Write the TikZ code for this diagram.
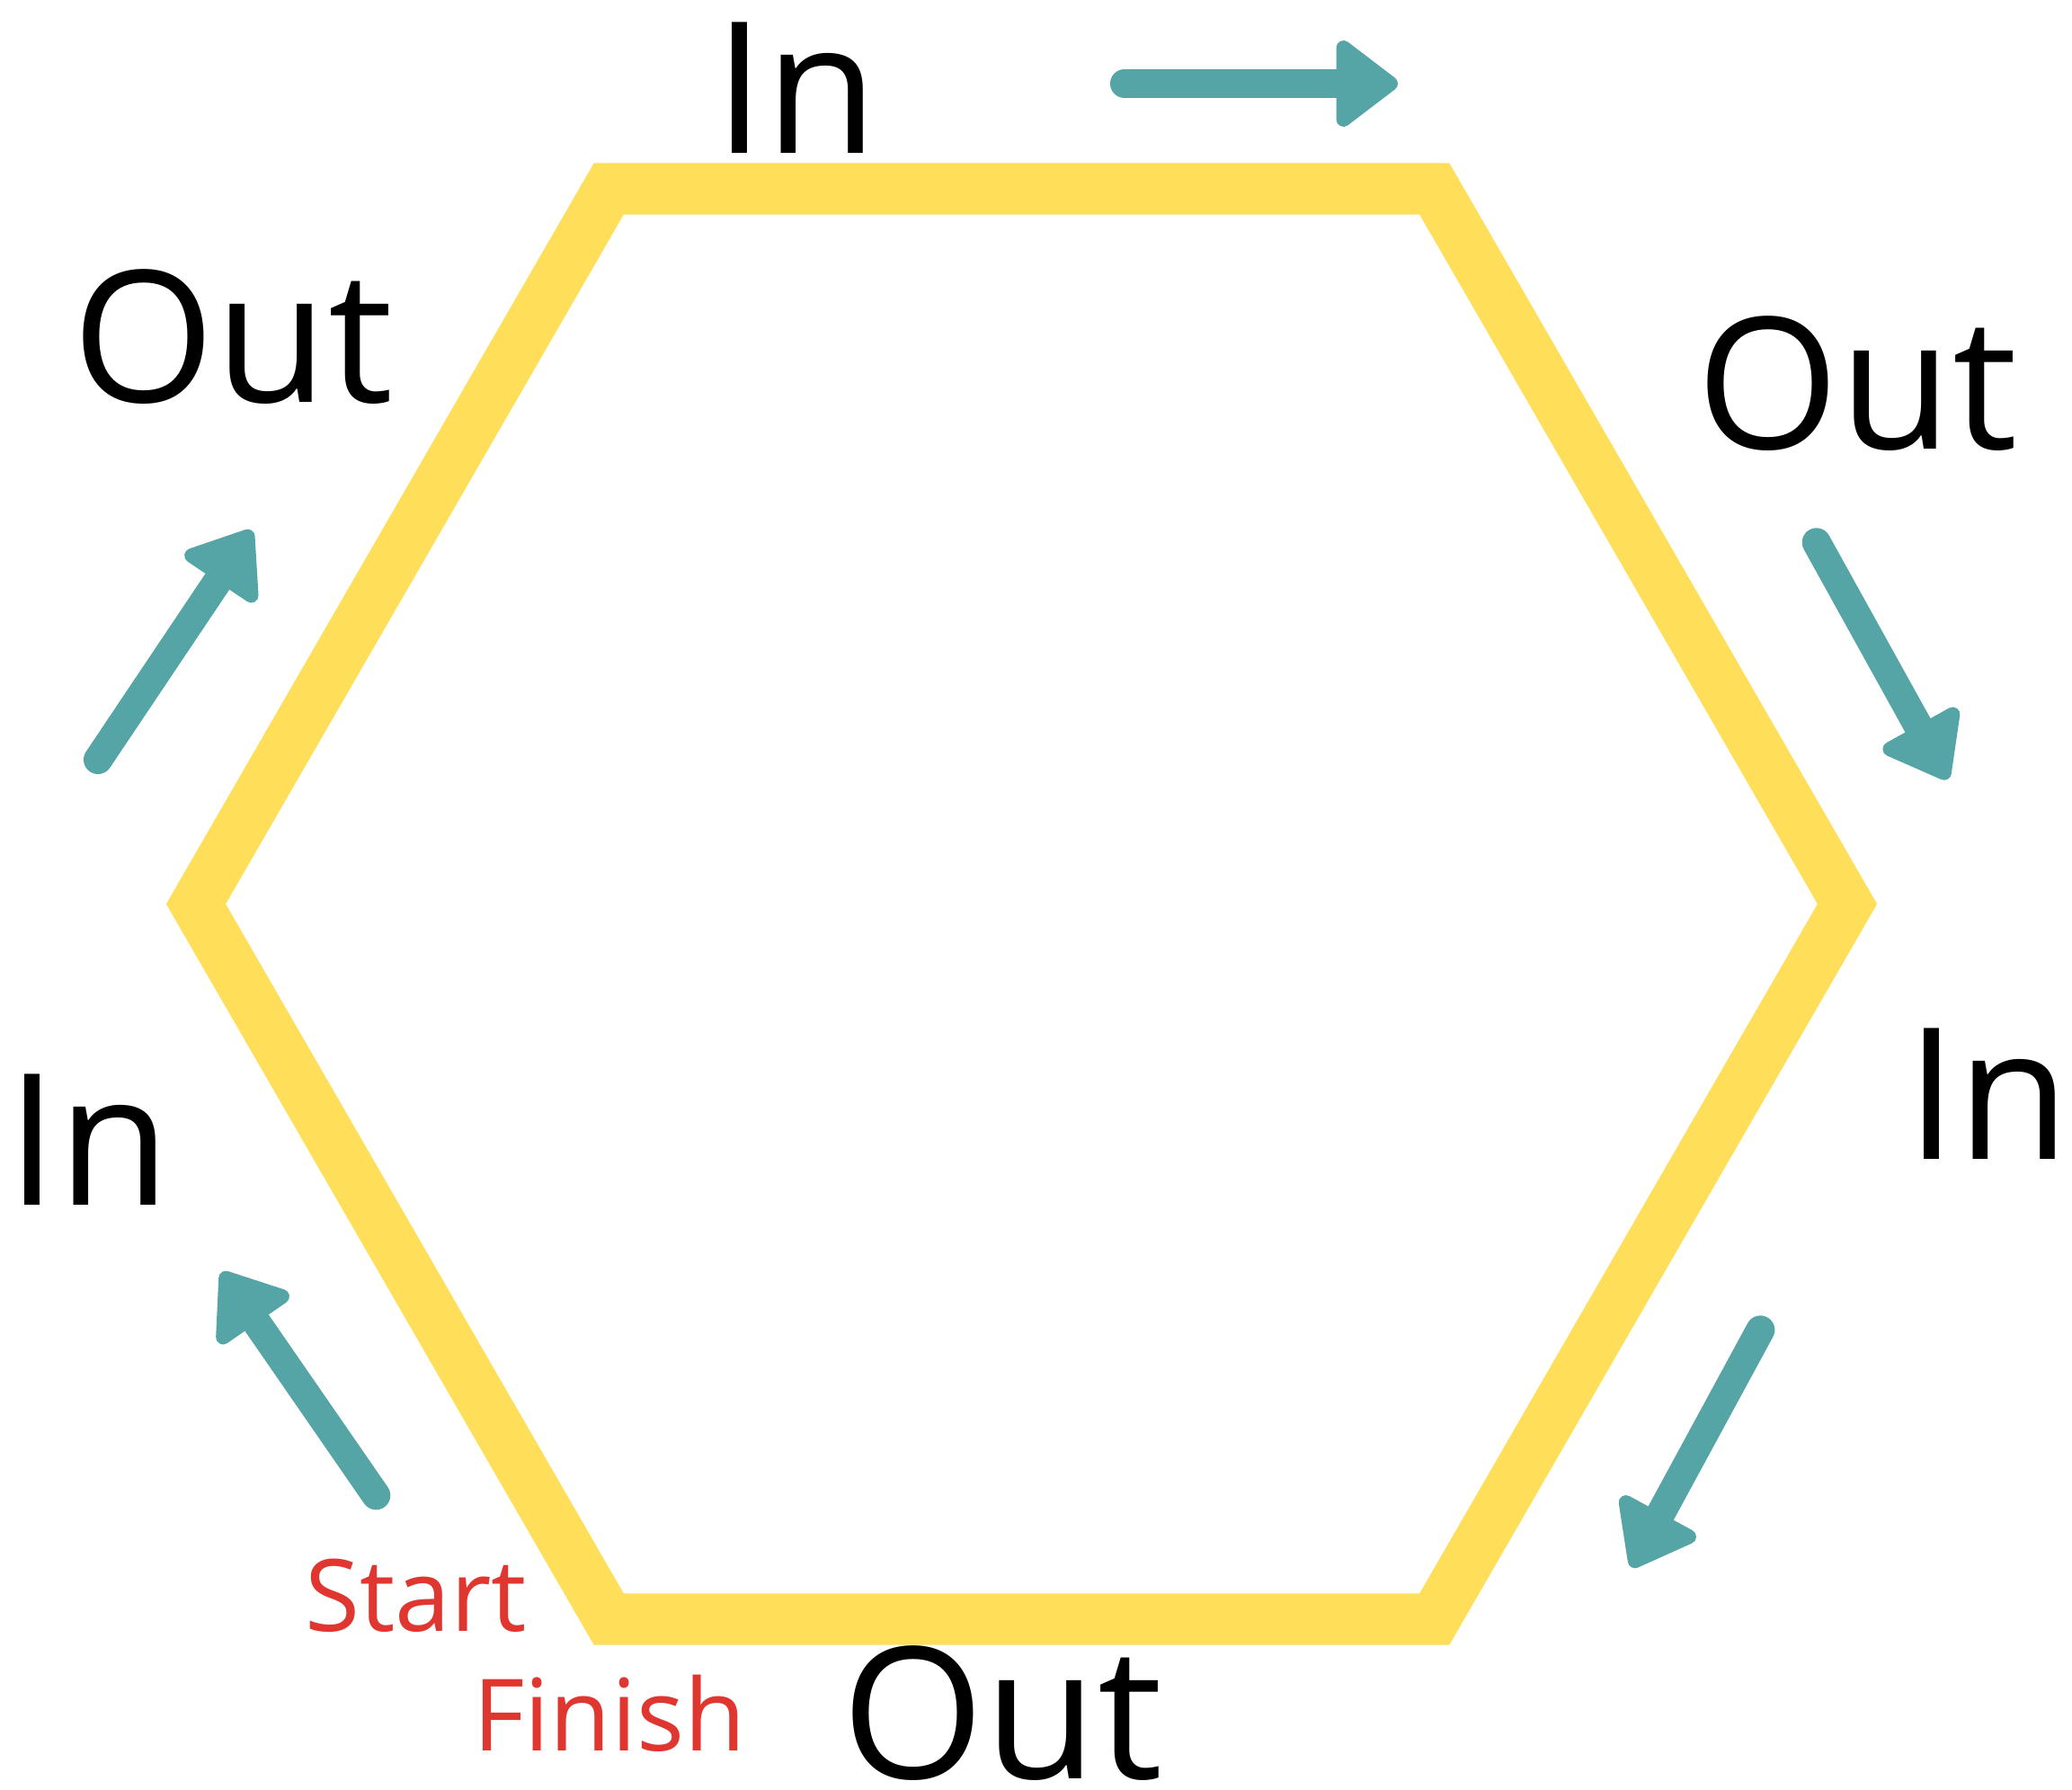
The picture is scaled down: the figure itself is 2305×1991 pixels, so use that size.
\documentclass[tikz,border=0pt]{standalone}
\usepackage{fontspec}
\setmainfont{Open Sans}
\usetikzlibrary{arrows.meta}

\definecolor{HexColor}{RGB}{255,222,90}
\definecolor{ArrowColor}{RGB}{85,164,166}
\definecolor{MarkColor}{RGB}{224,54,48}
\tikzstyle{hex-label}=[inner sep=0pt,
                       anchor=base,
                       font=\fontsize{58}{60}\selectfont
                      ]
\tikzstyle{mark-label}=[hex-label,
                        text=MarkColor,
                        font=\fontsize{31.6}{34}\selectfont]
\tikzstyle{hex-line}=[draw=HexColor, line width=0.573cm, line join=miter]
\tikzstyle{flow}=[draw=ArrowColor,
                  line width=0.32cm,
                  line cap=round,
                  -{Triangle[length=0.74cm, width=1.08cm, line width=0.16cm, round]}]

\begin{document}
\begin{tikzpicture}[x=0.01cm, y=-0.01cm]
\useasboundingbox (0,0) rectangle (2305,1991);

% hexagon
\coordinate (hex0) at (218, 1005.5);
\coordinate (hex1) at (677.25, 210);
\coordinate (hex2) at (1595.75, 210);
\coordinate (hex3) at (2055, 1005.5);
\coordinate (hex4) at (1595.75, 1801);
\coordinate (hex5) at (677.25, 1801);
\draw[hex-line] (hex0) -- (hex1) -- (hex2) -- (hex3) -- (hex4) -- (hex5) -- cycle;

\node at (885.7, 170.5) (in_top) [hex-label] {In};
\node at (259, 447) (out_left) [hex-label] {Out};
\node at (2066, 499.8) (out_right) [hex-label] {Out};
\node at (2212, 1289) (in_right) [hex-label] {In};
\node at (99, 1340.6) (in_left) [hex-label] {In};
\node at (1115, 1978) (out_bottom) [hex-label] {Out};

\node at (462.5, 1814) (start) [mark-label] {Start};
\node at (678, 1947.7) (finish) [mark-label] {Finish};

% direction arrows
\coordinate (arrow1s) at (1251, 93);
\coordinate (arrow1e) at (1555, 93);
\coordinate (arrow2s) at (2020.7, 603.3);
\coordinate (arrow2e) at (2166.7, 866.7);
\coordinate (arrow3s) at (1958.3, 1479.3);
\coordinate (arrow3e) at (1815, 1743.3);
\coordinate (arrow4s) at (418.3, 1663.3);
\coordinate (arrow4e) at (246.7, 1415);
\coordinate (arrow5s) at (109, 845);
\coordinate (arrow5e) at (280, 590);

\draw[flow] (arrow1s) -- (arrow1e);
\draw[flow] (arrow2s) -- (arrow2e);
\draw[flow] (arrow3s) -- (arrow3e);
\draw[flow] (arrow4s) -- (arrow4e);
\draw[flow] (arrow5s) -- (arrow5e);

\end{tikzpicture}
\end{document}
